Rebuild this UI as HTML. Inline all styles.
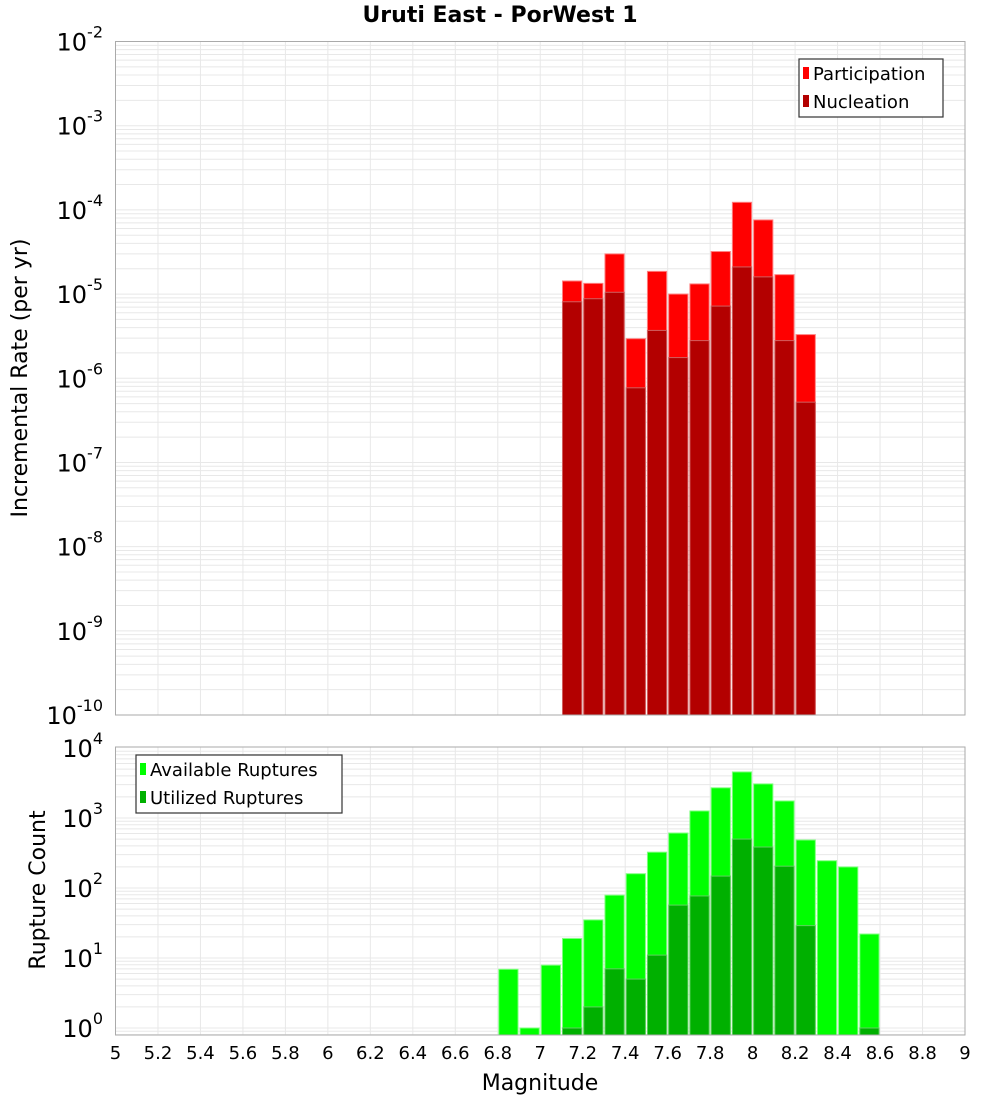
<!DOCTYPE html>
<html><head><meta charset="utf-8"><style>
body{margin:0;background:#fff}
svg{display:block;font-family:"DejaVu Sans","Liberation Sans",sans-serif}
</style></head><body>
<svg id="c" width="1000" height="1100" viewBox="0 0 1000 1100"></svg>
<script>
const mags=[7.1,7.2,7.3,7.4,7.5,7.6,7.7,7.8,7.9,8.0,8.1,8.2];
const participation=[1.43e-5,1.34e-5,3.0e-5,2.95e-6,1.86e-5,1.0e-5,1.32e-5,3.2e-5,1.23e-4,7.6e-5,1.7e-5,3.3e-6];
const nucleation=[8.1e-6,8.8e-6,1.05e-5,7.7e-7,3.7e-6,1.76e-6,2.8e-6,7.2e-6,2.1e-5,1.6e-5,2.8e-6,5.2e-7];
const availMags=[6.8,6.9,7.0,7.1,7.2,7.3,7.4,7.5,7.6,7.7,7.8,7.9,8.0,8.1,8.2,8.3,8.4,8.5];
const available=[6.9,1,7.9,19,35,79,160,325,610,1260,2700,4550,3070,1750,485,245,200,22];
const utilMags=[7.1,7.2,7.3,7.4,7.5,7.6,7.7,7.8,7.9,8.0,8.1,8.2,8.5];
const utilized=[1,2,7,5,11,57,77,148,500,385,205,29,1];
const xTicks=[5,5.2,5.4,5.6,5.8,6,6.2,6.4,6.6,6.8,7,7.2,7.4,7.6,7.8,8,8.2,8.4,8.6,8.8,9];
const topExp=[-2,-3,-4,-5,-6,-7,-8,-9,-10];
const botExp=[4,3,2,1,0];

const NS='http://www.w3.org/2000/svg';
const svg=document.getElementById('c');
function el(t,a,p){const e=document.createElementNS(NS,t);for(const k in a)e.setAttribute(k,a[k]);(p||svg).appendChild(e);return e;}
const X0=115.5,X1=965;
const x=m=>X0+(m-5)*(X1-X0)/4;
const T0=41.5,T1=715;
const yTop=v=>T0+(-2-Math.log10(v))*(T1-T0)/8;
const B0=748,BD=70,B1=1035;
const yBot=v=>B0+(4-Math.log10(v))*BD;

function panel(name,top,bot,yf,lo,hi){
  const g=el('g',{},svg);
  
  
  el('rect',{x:X0,y:top,width:X1-X0,height:bot-top,fill:'#fff'},g);
  for(let e=lo;e<hi;e++)for(let k=1;k<10;k++){const yy=yf(k*Math.pow(10,e));if(yy>=top&&yy<=bot)el('line',{x1:X0,x2:X1,y1:yy,y2:yy,stroke:'#e8e8e8','stroke-width':1},g);}
  xTicks.forEach(t=>el('line',{x1:x(t),x2:x(t),y1:top,y2:bot,stroke:'#e8e8e8','stroke-width':1},g));
  return g;
}
function bars(g,ms,vs,yf,base,fill,stroke,name){
  ms.forEach((m,i)=>{const y=yf(vs[i]);const r=el('rect',{x:x(m)+1,y:y,width:x(m+0.1)-x(m)-2,height:base-y,fill:fill,stroke:stroke,'stroke-width':1},g);
  
  });
}
const gt=panel('top-plot',T0,T1,yTop,-10,-2);
bars(gt,mags,participation,yTop,T1,'#ff0000','#ff8080','participation-bar');
bars(gt,mags,nucleation,yTop,T1,'#b30000','#d06060','nucleation-bar');
el('rect',{x:X0,y:T0,width:X1-X0,height:T1-T0,fill:'none',stroke:'#aaa'},gt);
const gb=panel('bottom-plot',B0-1,B1,yBot,-1,4);
bars(gb,availMags,available,yBot,B1,'#00ff00','#80ff80','available-bar');
bars(gb,utilMags,utilized,yBot,B1,'#00b000','#60d060','utilized-bar');
el('rect',{x:X0,y:B0-1,width:X1-X0,height:B1-B0+1,fill:'none',stroke:'#aaa'},gb);

function ylab(yy,e,name){const t=el('text',{x:103,y:yy+9,'font-size':24,'text-anchor':'end',fill:'#000'});
 
 const a=el('tspan',{},t);a.textContent='10';const b=el('tspan',{dy:-13,'font-size':16},t);b.textContent=String(e);}
topExp.forEach(e=>ylab(yTop(Math.pow(10,e)),e,'top-y-tick'));
botExp.forEach(e=>ylab(yBot(Math.pow(10,e)),e,'bottom-y-tick'));
xTicks.forEach(t=>{const s=el('text',{x:x(t),y:1059,'font-size':18,'text-anchor':'middle'});s.textContent=String(t);
 });

function legend(x0,y0,w,items,name){const g=el('g',{});
 el('rect',{x:x0,y:y0,width:w,height:58,fill:'#fff',stroke:'#333','stroke-width':1.2},g);
 items.forEach((it,i)=>{el('rect',{x:x0+4,y:y0+8+i*28,width:6,height:12,fill:it[1]},g);
  const t=el('text',{x:x0+14,y:y0+21+i*28,'font-size':18},g);t.textContent=it[0];});}
legend(799,59,144,[['Participation','#ff0000'],['Nucleation','#b30000']],'top-legend');
legend(136,755,206,[['Available Ruptures','#00ff00'],['Utilized Ruptures','#00b000']],'bottom-legend');

const ti=el('text',{x:500,y:22,'font-size':22,'font-weight':'bold','text-anchor':'middle'});ti.textContent='Uruti East - PorWest 1';

const xt=el('text',{x:540,y:1090,'font-size':22,'text-anchor':'middle'});xt.textContent='Magnitude';

const y1=el('text',{x:0,y:0,'font-size':22,'text-anchor':'middle',transform:'translate(27,378) rotate(-90)'});y1.textContent='Incremental Rate (per yr)';

const y2=el('text',{x:0,y:0,'font-size':22,'text-anchor':'middle',transform:'translate(45,890) rotate(-90)'});y2.textContent='Rupture Count';

</script>
</body></html>
